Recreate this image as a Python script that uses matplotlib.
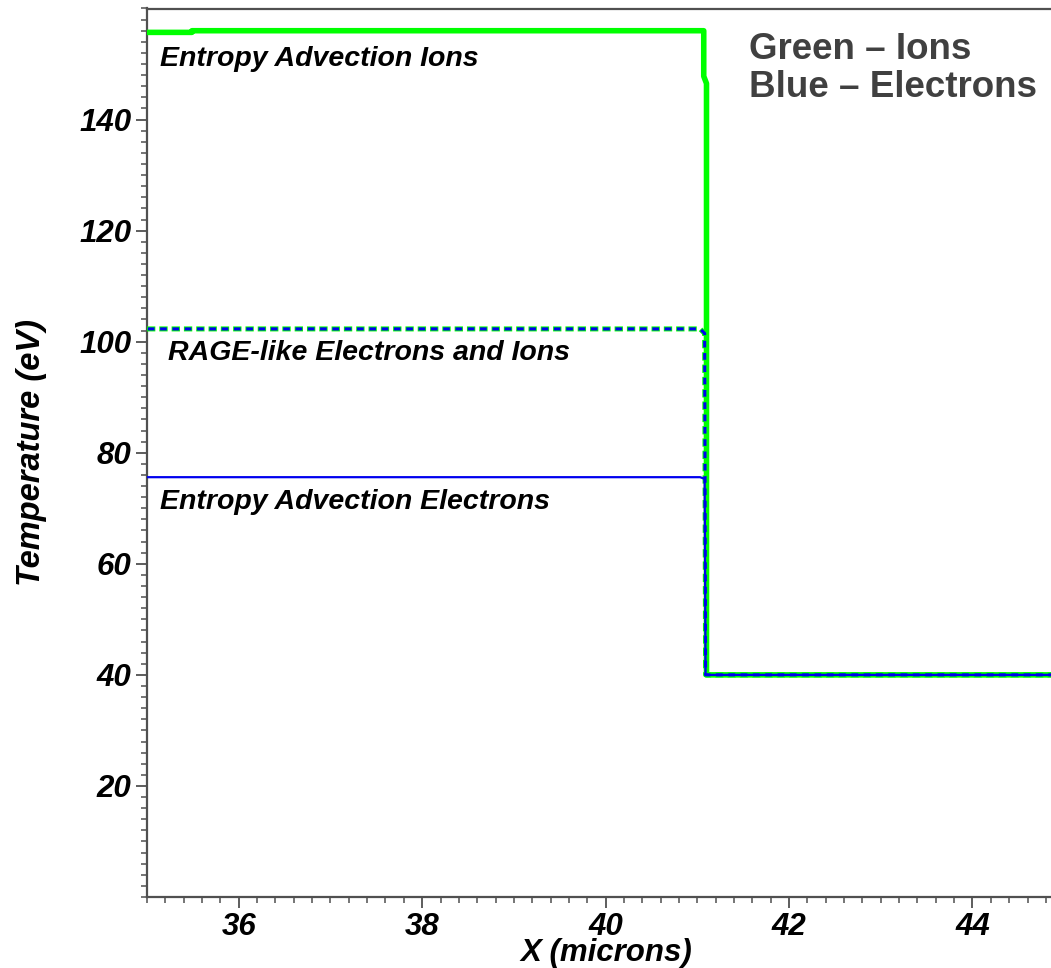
import matplotlib
matplotlib.use("Agg")
import matplotlib.pyplot as plt
from matplotlib.ticker import MultipleLocator, FixedLocator

# Data
x_ions_ea = [35.0, 35.49, 35.49, 41.07, 41.07, 41.10, 41.10, 44.86]
t_ions_ea = [155.7, 155.7, 156.0, 156.0, 147.8, 146.5, 40.0, 40.0]

x_rage = [35.0, 41.03, 41.08, 41.09, 44.86]
t_rage = [102.3, 102.3, 101.5, 40.0, 40.0]

x_elec_ea = [35.0, 41.03, 41.08, 41.09, 44.86]
t_elec_ea = [75.6, 75.6, 75.3, 40.0, 40.0]

x_ticks = [36, 38, 40, 42, 44]
y_ticks = [20, 40, 60, 80, 100, 120, 140]

FONT = "Liberation Sans"

plt.rcParams["lines.scale_dashes"] = False

fig = plt.figure(figsize=(10.51, 9.68), dpi=100)
ax = fig.add_axes([147 / 1051, 71 / 968, (1051 - 147) / 1051, (897 - 8.5) / 968])

blue = "#0000ee"

# Entropy advection ions (thick green)
ax.plot(x_ions_ea, t_ions_ea, color="#00ff00", lw=4.0, solid_capstyle="butt", zorder=3)
# RAGE-like electrons and ions (green dashed under blue dashed)
ax.plot(x_rage, t_rage, color="#00ff00", lw=3.6, ls=(0, (6.0, 2.86)), zorder=4)
ax.plot(x_rage, t_rage, color=blue, lw=2.2, ls=(-0.6, (4.8, 4.06)), zorder=5)
# Entropy advection electrons (thin blue)
ax.plot(x_elec_ea, t_elec_ea, color=blue, lw=1.6, zorder=6)

ax.set_xlim(35.0, 44.856)
ax.set_ylim(0, 160)

ax.spines["right"].set_visible(False)
for s in ["left", "bottom", "top"]:
    ax.spines[s].set_color("#505050")
    ax.spines[s].set_linewidth(1.6)

ax.xaxis.set_major_locator(FixedLocator(x_ticks))
ax.yaxis.set_major_locator(FixedLocator(y_ticks))
ax.xaxis.set_minor_locator(MultipleLocator(0.2))
ax.yaxis.set_minor_locator(MultipleLocator(2))
ax.tick_params(which="major", direction="out", length=8, width=1.3, color="#505050",
               top=False, right=False)
ax.tick_params(which="minor", direction="out", length=4.5, width=1.1, color="#505050",
               top=False, right=False)
for lab in ax.get_xticklabels() + ax.get_yticklabels():
    lab.set_fontfamily(FONT)
    lab.set_fontweight("bold")
    lab.set_fontstyle("italic")
    lab.set_fontsize(22.5)
    lab.set_color("black")
ax.tick_params(axis="x", pad=3)
ax.tick_params(axis="y", pad=3)

ax.set_xlabel("X (microns)", family=FONT, weight="bold", style="italic", fontsize=22.5)
ax.xaxis.set_label_coords((606 - 147) / 904, -(938 - 897) / 888.5)
ax.set_ylabel("Temperature (eV)", family=FONT, weight="bold", style="italic", fontsize=23.5)
ax.yaxis.set_label_coords(-(147 - 47) / 904, (897 - 453) / 888.5)

txt = dict(family=FONT, weight="bold", style="italic", fontsize=20.5, color="black", zorder=10)
ax.text(35.14, 150.9, "Entropy Advection Ions", va="center", ha="left", **txt)
ax.text(35.23, 97.9, "RAGE-like Electrons and Ions", va="center", ha="left", **txt)
ax.text(35.14, 71.2, "Entropy Advection Electrons", va="center", ha="left", **txt)

fig.text(749 / 1051, 1 - 32 / 968, "Green \u2013 Ions\nBlue \u2013 Electrons", family=FONT,
         weight="bold", fontsize=26.5, color="#404040", ha="left", va="top", linespacing=1.1)

fig.savefig("out.png", dpi=100)
